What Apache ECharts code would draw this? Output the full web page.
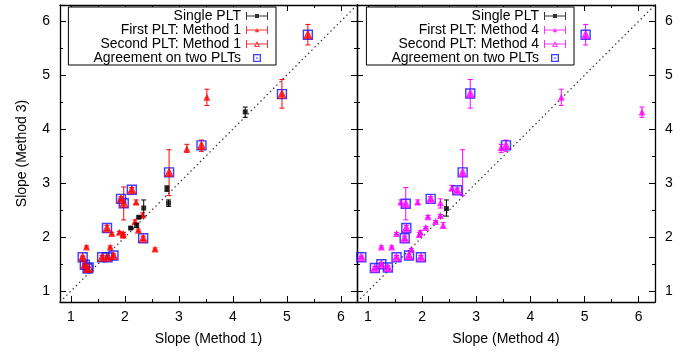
<!DOCTYPE html>
<html><head><meta charset="utf-8">
<script src="https://cdn.jsdelivr.net/npm/echarts@6/dist/echarts.min.js"></script>
<style>html,body{margin:0;padding:0;background:#fff}#c{width:697px;height:356px}</style>
</head><body><div id="c"></div>
<script>
// ---------- data ----------
const axisMin = 0.8, axisMax = 6.3;
const majorTicks = [1, 2, 3, 4, 5, 6];
const minorTicks = [1.5, 2.5, 3.5, 4.5, 5.5];
const diagonal = [[0.8, 0.8], [6.3, 6.3]];

const xNameLeft = 'Slope (Method 1)';
const xNameRight = 'Slope (Method 4)';
const yName = 'Slope (Method 3)';

const legendLeft = ['Single PLT', 'First PLT: Method 1', 'Second PLT: Method 1', 'Agreement on two PLTs'];
const legendRight = ['Single PLT', 'First PLT: Method 4', 'Second PLT: Method 4', 'Agreement on two PLTs'];

// [x, y, errLow, errHigh]
const leftSingle = [
  [4.23, 4.32, 4.22, 4.41], [2.78, 2.90, 2.85, 2.95], [2.81, 2.63, 2.57, 2.69],
  [2.35, 2.54, 2.39, 2.69], [2.26, 2.37, 2.35, 2.39], [2.22, 2.22, 2.18, 2.26],
  [2.11, 2.17, 2.15, 2.19]
];
const leftFirst = [
  [5.39, 5.75, 5.56, 5.94], [4.91, 4.65, 4.39, 4.92], [3.42, 3.70, 3.59, 3.80],
  [2.82, 3.20, 2.77, 3.62], [2.13, 2.88, 2.84, 2.92], [1.93, 2.71, 2.67, 2.75],
  [1.98, 2.63, 2.32, 2.93], [1.67, 2.17, 2.12, 2.22], [2.34, 1.98, 1.94, 2.02],
  [1.22, 1.63, 1.61, 1.65], [1.58, 1.63, 1.60, 1.66], [1.68, 1.63, 1.60, 1.66],
  [1.79, 1.66, 1.63, 1.69], [1.26, 1.49, 1.46, 1.52], [1.31, 1.42, 1.39, 1.45],
  [3.52, 4.59, 4.44, 4.74], [3.15, 3.64, 3.57, 3.72], [2.21, 2.65, 2.61, 2.69],
  [2.33, 2.41, 2.37, 2.45], [2.19, 2.29, 2.26, 2.32], [2.25, 2.13, 2.11, 2.15],
  [1.90, 2.09, 2.07, 2.11], [1.97, 2.07, 2.05, 2.09], [1.76, 2.07, 2.05, 2.09],
  [1.97, 2.04, 1.99, 2.09], [2.56, 1.78, 1.76, 1.80], [1.29, 1.82, 1.80, 1.84],
  [1.73, 1.82, 1.80, 1.84]
];
const leftSecond = [
  [5.39, 5.75], [4.91, 4.65], [3.42, 3.70], [2.82, 3.20], [2.13, 2.88], [1.93, 2.71],
  [1.98, 2.63], [1.67, 2.17], [2.34, 1.98], [1.22, 1.63], [1.58, 1.63], [1.68, 1.63],
  [1.79, 1.66], [1.26, 1.49], [1.31, 1.42], [1.33, 1.44]
];
const leftAgree = [
  [5.39, 5.75], [4.91, 4.65], [3.42, 3.70], [2.82, 3.20], [2.13, 2.88], [1.93, 2.71],
  [1.98, 2.63], [1.67, 2.17], [2.34, 1.98], [1.22, 1.63], [1.58, 1.63], [1.68, 1.63],
  [1.79, 1.66], [1.26, 1.49], [1.31, 1.42], [1.33, 1.44]
];

const rightSingle = [[2.45, 2.53, 2.39, 2.69]];
const rightFirst = [
  [5.02, 5.75, 5.56, 5.94], [2.89, 4.66, 4.39, 4.92], [3.55, 3.70, 3.59, 3.80],
  [2.75, 3.20, 2.77, 3.62], [2.65, 2.87, 2.83, 2.91], [2.16, 2.71, 2.67, 2.75],
  [1.70, 2.62, 2.32, 2.92], [1.71, 2.17, 2.12, 2.22], [1.68, 1.98, 1.94, 2.02],
  [0.88, 1.63, 1.61, 1.65], [1.53, 1.63, 1.60, 1.66], [1.76, 1.66, 1.63, 1.69],
  [1.98, 1.63, 1.60, 1.66], [1.25, 1.50, 1.47, 1.53], [1.13, 1.43, 1.40, 1.46],
  [1.37, 1.44, 1.41, 1.47],
  [4.57, 4.59, 4.44, 4.74], [6.06, 4.32, 4.22, 4.41], [3.46, 3.66, 3.57, 3.72],
  [2.55, 2.91, 2.86, 2.96], [2.34, 2.64, 2.54, 2.71], [1.61, 2.65, 2.61, 2.69],
  [1.92, 2.65, 2.61, 2.69], [2.11, 2.38, 2.36, 2.40], [2.34, 2.40, 2.38, 2.42],
  [2.25, 2.29, 2.27, 2.31], [2.07, 2.18, 2.16, 2.20], [2.39, 2.22, 2.17, 2.27],
  [1.97, 2.09, 2.06, 2.12], [1.95, 2.05, 2.01, 2.09], [1.53, 2.07, 2.05, 2.09],
  [1.25, 1.82, 1.80, 1.84], [1.44, 1.82, 1.80, 1.84], [1.80, 1.77, 1.75, 1.79]
];
const rightSecond = [
  [5.02, 5.75], [2.89, 4.66], [3.55, 3.70], [2.75, 3.20], [2.65, 2.87], [2.16, 2.71],
  [1.70, 2.62], [1.71, 2.17], [1.68, 1.98], [0.88, 1.63], [1.53, 1.63], [1.76, 1.66],
  [1.98, 1.63], [1.25, 1.50], [1.13, 1.43], [1.37, 1.44]
];
const rightAgree = [
  [5.02, 5.75], [2.89, 4.66], [3.55, 3.70], [2.75, 3.20], [2.65, 2.87], [2.16, 2.71],
  [1.70, 2.62], [1.71, 2.17], [1.68, 1.98], [0.88, 1.63], [1.53, 1.63], [1.76, 1.66],
  [1.98, 1.63], [1.25, 1.50], [1.13, 1.43], [1.37, 1.44]
];

// ---------- styling ----------
const FONT = '"Liberation Sans", Arial, Helvetica, sans-serif';
const RED = '#ff0000', MAG = '#ff00ff', BLUE = '#1010ff', BLACK = '#000000';

const ICON_SINGLE = 'path://M0,0H1V8H0Z M21,0H22V8H21Z M0,3.5H22V4.5H0Z M9,2H13V6H9Z';
const ICON_FIRST = 'path://M0,0H1V8H0Z M21,0H22V8H21Z M0,3.5H22V4.5H0Z M8.8,6.2L11,2L13.2,6.2Z';
const ICON_SECOND = 'path://M0,0H1V8H0Z M21,0H22V8H21Z M0,3.5H22V4.5H0Z M8,7L11,1L14,7Z M9.6,6.1L12.4,6.1L11,3.3Z';
const ICON_AGREE = 'path://M0,0H8V8H0Z M1.3,1.3V6.7H6.7V1.3Z M3.3,3.3H4.7V4.7H3.3Z';

const grids = [
  { left: 60, top: 5, width: 297, height: 297 },
  { left: 357, top: 5, width: 298, height: 297 }
];

function xAxesFor(g, name, showLabel) {
  const base = { type: 'value', gridIndex: g, min: axisMin, max: axisMax, splitLine: { show: false } };
  return [
    Object.assign({}, base, {
      position: 'bottom',
      axisLine: { show: true, onZero: false, lineStyle: { color: BLACK, width: 1.3 } },
      axisTick: { show: true, inside: true, length: 6, customValues: majorTicks, lineStyle: { color: BLACK } },
      axisLabel: { show: showLabel, customValues: majorTicks, margin: 8, fontSize: 14, color: BLACK, fontFamily: FONT },
      name: name, nameLocation: 'middle', nameGap: 30,
      nameTextStyle: { fontSize: 14, color: BLACK, fontFamily: FONT }
    }),
    Object.assign({}, base, {
      position: 'bottom',
      axisLine: { show: false, onZero: false },
      axisTick: { show: true, inside: true, length: 3, customValues: minorTicks, lineStyle: { color: BLACK } },
      axisLabel: { show: false }
    }),
    Object.assign({}, base, {
      position: 'top',
      axisLine: { show: true, onZero: false, lineStyle: { color: BLACK, width: 1.3 } },
      axisTick: { show: true, inside: true, length: 6, customValues: majorTicks, lineStyle: { color: BLACK } },
      axisLabel: { show: false }
    }),
    Object.assign({}, base, {
      position: 'top',
      axisLine: { show: false, onZero: false },
      axisTick: { show: true, inside: true, length: 3, customValues: minorTicks, lineStyle: { color: BLACK } },
      axisLabel: { show: false }
    })
  ];
}

function yAxesFor(g, labelSide, name) {
  const base = { type: 'value', gridIndex: g, min: axisMin, max: axisMax, splitLine: { show: false } };
  const mk = (pos) => [
    Object.assign({}, base, {
      position: pos,
      axisLine: { show: true, onZero: false, lineStyle: { color: BLACK, width: 1.3 } },
      axisTick: { show: true, inside: true, length: 6, customValues: majorTicks, lineStyle: { color: BLACK } },
      axisLabel: { show: labelSide === pos, customValues: majorTicks, margin: 10, fontSize: 14, color: BLACK, fontFamily: FONT },
      name: (labelSide === pos && pos === 'left') ? name : '',
      nameLocation: 'middle', nameGap: 31,
      nameTextStyle: { fontSize: 14, color: BLACK, fontFamily: FONT }
    }),
    Object.assign({}, base, {
      position: pos,
      axisLine: { show: false, onZero: false },
      axisTick: { show: true, inside: true, length: 3, customValues: minorTicks, lineStyle: { color: BLACK } },
      axisLabel: { show: false }
    })
  ];
  return mk('left').concat(mk('right'));
}

function errSeries(data, color, xi, yi) {
  return {
    type: 'custom', xAxisIndex: xi, yAxisIndex: yi, data: data, silent: true, z: 3,
    encode: { x: 0, y: 1 },
    renderItem: function (params, api) {
      const x = api.value(0), lo = api.value(2), hi = api.value(3);
      const a = api.coord([x, lo]), b = api.coord([x, hi]);
      const w = 2.5;
      const st = { stroke: color, lineWidth: 1 };
      return {
        type: 'group', children: [
          { type: 'line', shape: { x1: a[0], y1: a[1], x2: b[0], y2: b[1] }, style: st },
          { type: 'line', shape: { x1: a[0] - w, y1: a[1], x2: a[0] + w, y2: a[1] }, style: st },
          { type: 'line', shape: { x1: b[0] - w, y1: b[1], x2: b[0] + w, y2: b[1] }, style: st }
        ]
      };
    }
  };
}

function panelSeries(xi, yi, names, color, single, first, second, agree) {
  return [
    { type: 'line', xAxisIndex: xi, yAxisIndex: yi, data: diagonal, symbol: 'none', silent: true, z: 1,
      lineStyle: { type: [1.5, 3], color: '#333', width: 1.2 } },
    errSeries(first, color, xi, yi),
    errSeries(single, BLACK, xi, yi),
    { type: 'scatter', name: names[3], xAxisIndex: xi, yAxisIndex: yi, data: agree, symbol: 'rect', symbolSize: 9, z: 4,
      itemStyle: { color: 'rgba(0,0,255,0.06)', borderColor: BLUE, borderWidth: 1.4 } },
    { type: 'scatter', name: names[1], xAxisIndex: xi, yAxisIndex: yi, data: first, symbol: 'triangle', symbolSize: 7, z: 5,
      itemStyle: { color: color } },
    { type: 'scatter', name: names[2], xAxisIndex: xi, yAxisIndex: yi, data: second, symbol: 'triangle', symbolSize: 8, z: 5,
      itemStyle: { color: 'rgba(0,0,0,0)', borderColor: color, borderWidth: 1 } },
    { type: 'scatter', name: names[0], xAxisIndex: xi, yAxisIndex: yi, data: single, symbol: 'rect', symbolSize: 5, z: 6,
      itemStyle: { color: BLACK } }
  ];
}

function legendFor(names, color, right) {
  return {
    orient: 'vertical', align: 'right', right: right, top: 7,
    itemWidth: 22, itemHeight: 8, itemGap: 0,
    padding: [2, 8, 0, 25],
    borderColor: BLACK, borderWidth: 1, backgroundColor: '#fff',
    selectedMode: false,
    textStyle: { fontSize: 14, fontFamily: FONT, color: BLACK },
    data: [
      { name: names[0], icon: ICON_SINGLE, itemStyle: { color: BLACK, borderWidth: 0 } },
      { name: names[1], icon: ICON_FIRST, itemStyle: { color: color, borderWidth: 0 } },
      { name: names[2], icon: ICON_SECOND, itemStyle: { color: color, borderWidth: 0 } },
      { name: names[3], icon: ICON_AGREE, itemStyle: { color: BLUE, borderWidth: 0 } }
    ]
  };
}

const chart = echarts.init(document.getElementById('c'), null, { renderer: 'canvas' });
chart.setOption({
  animation: false,
  backgroundColor: '#fff',
  textStyle: { fontFamily: FONT },
  grid: grids,
  xAxis: xAxesFor(0, xNameLeft, true).concat(xAxesFor(1, xNameRight, true)),
  yAxis: yAxesFor(0, 'left', yName).concat(yAxesFor(1, 'right', '')),
  legend: [legendFor(legendLeft, RED, 421), legendFor(legendRight, MAG, 123)],
  series: panelSeries(0, 0, legendLeft, RED, leftSingle, leftFirst, leftSecond, leftAgree)
    .concat(panelSeries(4, 4, legendRight, MAG, rightSingle, rightFirst, rightSecond, rightAgree))
});
</script>
</body></html>
